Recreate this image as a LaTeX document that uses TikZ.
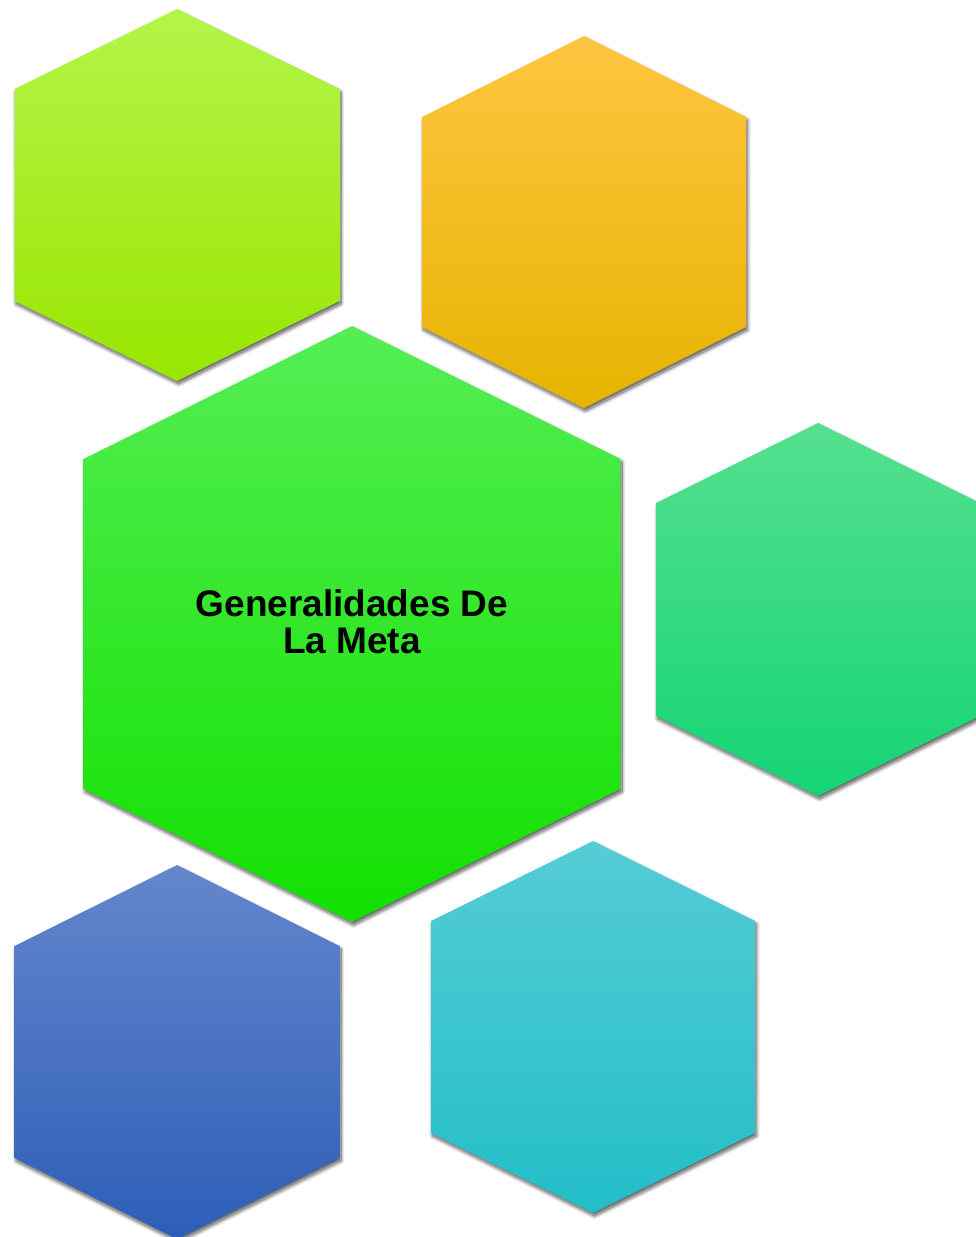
\documentclass[tikz,border=0pt]{standalone}
\usepackage{fontspec}
\setmainfont{Liberation Sans}
\usetikzlibrary{shadows.blur}
\definecolor{limeT}{HTML}{B3F54A}\definecolor{limeM}{HTML}{AAFF00}\definecolor{limeB}{HTML}{99E600}
\definecolor{orT}{HTML}{FFC542}\definecolor{orM}{HTML}{FFC800}\definecolor{orB}{HTML}{E6B400}
\definecolor{grT}{HTML}{55EE55}\definecolor{grM}{HTML}{2AF020}\definecolor{grB}{HTML}{12E000}
\definecolor{teT}{HTML}{55E08F}\definecolor{teM}{HTML}{25E480}\definecolor{teB}{HTML}{15D475}
\definecolor{blT}{HTML}{6486CC}\definecolor{blM}{HTML}{4472CA}\definecolor{blB}{HTML}{2D5EB8}
\definecolor{cyT}{HTML}{55CCD6}\definecolor{cyM}{HTML}{33CCD8}\definecolor{cyB}{HTML}{22BEC8}
\newcommand{\hexshape}[5]{(#1,#2) -- ++(#3,#4) -- ++(0,#5) -- ++(-#3,#4) -- ++(-#3,-#4) -- ++(0,-#5) -- cycle}
\begin{document}
\begin{tikzpicture}[x=1pt,y=-1pt,
  hexa/.style={blur shadow={shadow xshift=1.5pt,shadow yshift=-3pt,shadow blur radius=3.5pt,shadow blur steps=10,shadow opacity=65}},
  title/.style={font=\fontsize{37}{37}\selectfont\bfseries,align=center,text=black,inner sep=0pt}]
\useasboundingbox (0,0) rectangle (976,1237);
\path[hexa,top color=limeT,middle color=limeM,bottom color=limeB] \hexshape{177}{9}{162.5}{80}{212};
\path[hexa,top color=orT,middle color=orM,bottom color=orB] \hexshape{584}{36}{162}{81}{210};
\path[hexa,top color=teT,middle color=teM,bottom color=teB] \hexshape{818}{423}{162}{80}{213};
\path[hexa,top color=blT,middle color=blM,bottom color=blB] \hexshape{177}{865}{162.5}{81}{212};
\path[hexa,top color=cyT,middle color=cyM,bottom color=cyB] \hexshape{593}{841}{162}{80}{212};
\path[hexa,top color=grT,middle color=grM,bottom color=grB] \hexshape{352}{326}{268.5}{133}{330};
\node[title] (meta) at (352,622) {Generalidades De\\La Meta};
\end{tikzpicture}
\end{document}
